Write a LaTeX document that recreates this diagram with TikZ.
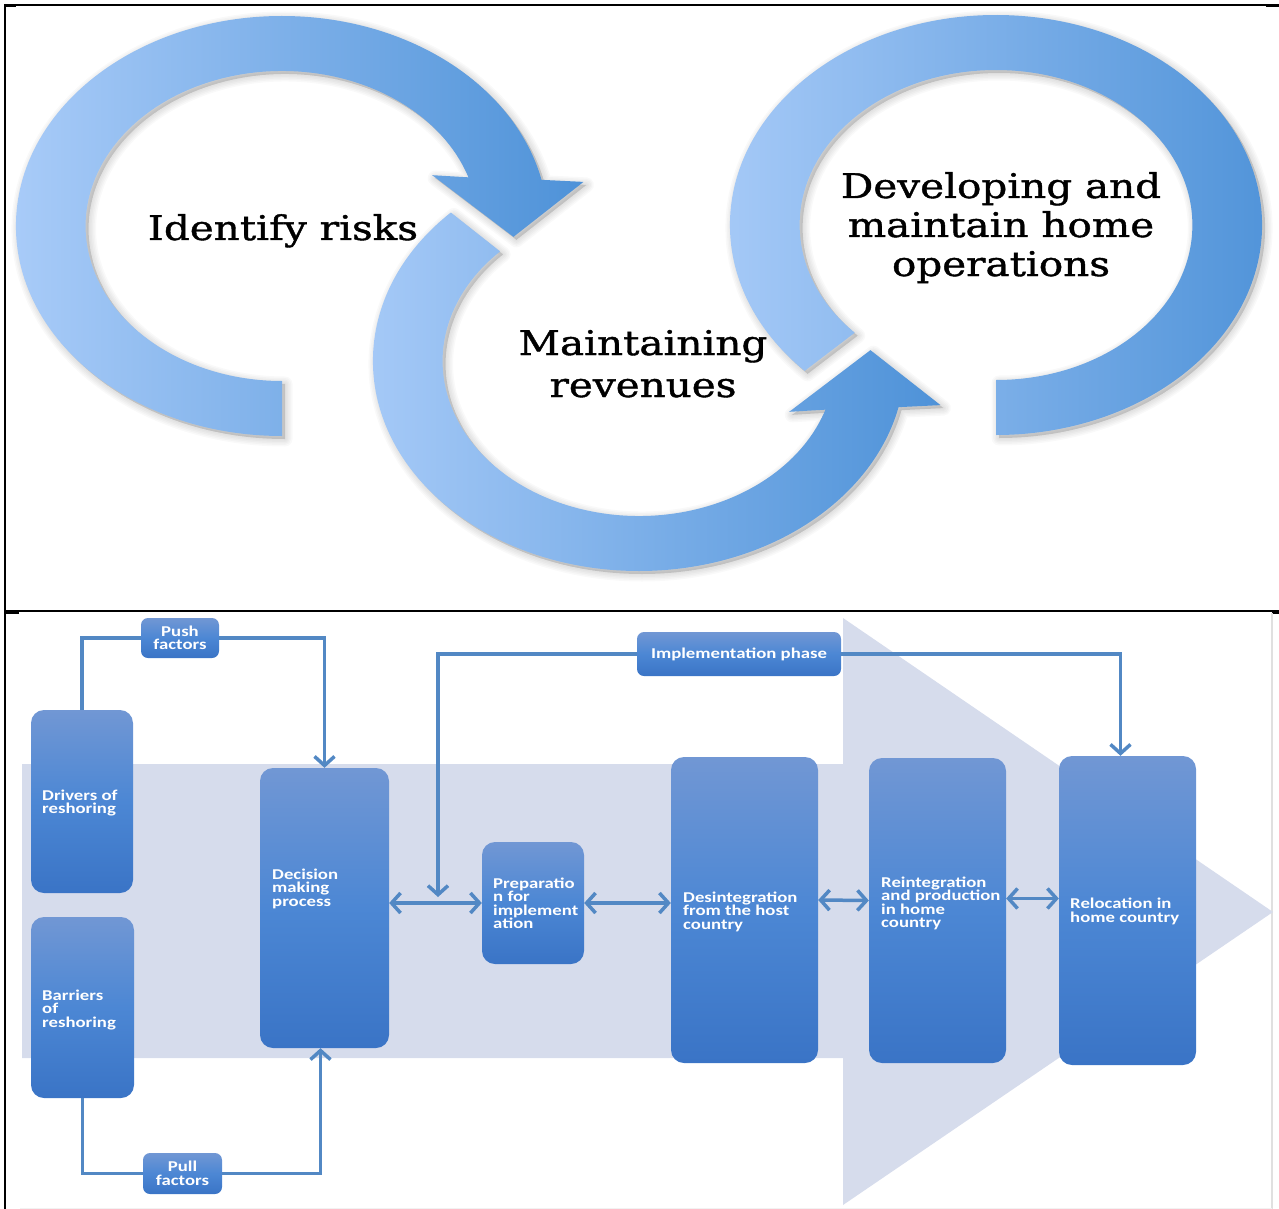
\documentclass[tikz,border=0pt]{standalone}
\usepackage{fontspec}
\usetikzlibrary{arrows.meta}
\newfontfamily\serfont[FakeStretch=1.19, FakeBold=1.2]{DejaVu Serif}
\newfontfamily\calfont[FakeStretch=1.25]{Carlito}
\definecolor{ringlight}{RGB}{168,203,248}
\definecolor{ringdark}{RGB}{78,146,216}
\definecolor{bgarrow}{RGB}{214,220,236}
\definecolor{boxtop}{RGB}{113,151,212}
\definecolor{boxmid}{RGB}{76,135,212}
\definecolor{boxbot}{RGB}{58,116,198}
\definecolor{linkblue}{RGB}{82,136,196}

% outlines of the three ring arrows, in a unit-circle frame (y up)
\def\ringonepath{(270:210) arc[start angle=270, end angle=12.7, radius=210]
    -- (10.5:242) -- (-3.4:183) -- (23.2:129) -- (18.3:155)
    arc[start angle=18.3, end angle=270, radius=155] -- cycle}
\def\ringtwopath{(135:210) arc[start angle=135, end angle=347.3, radius=210]
    -- (349.5:242) -- (3.4:183) -- (336.8:129) -- (341.7:155)
    arc[start angle=341.7, end angle=135, radius=155] -- cycle}
\def\ringthreepath{(224:210) arc[start angle=224, end angle=-90, radius=210]
    -- (-90:155) arc[start angle=-90, end angle=224, radius=155] -- cycle}

\begin{document}
\begin{tikzpicture}[x=1pt,y=-1pt,
  ring/.style={left color=ringlight, right color=ringdark},
  softshadow/.style={draw=black, fill=black, draw opacity=0.022, fill opacity=0.03, line join=round},
  ringlabel/.style={font=\serfont\fontsize{34}{42}\selectfont, align=center, inner sep=0pt, anchor=base},
  bluebox/.style={rectangle, rounded corners=13pt, top color=boxtop, bottom color=boxbot, middle color=boxmid, inner sep=0pt},
  smallbox/.style={bluebox, rounded corners=7pt, font=\calfont\bfseries\fontsize{15}{13.5}\selectfont, text=white, align=center},
  boxtext/.style={font=\calfont\bfseries\fontsize{15}{13.5}\selectfont, text=white, align=left, inner sep=0pt, anchor=west},
  link/.style={draw=linkblue, line width=3.5pt},
  endarrow/.style={-{Straight Barb[length=9pt,width=20pt]}},
  twoarrows/.style={{Straight Barb[length=9pt,width=20pt]}-{Straight Barb[length=9pt,width=20pt]}},
]
\useasboundingbox (0,0) rectangle (1279,1209);

% ---------- frame ----------
\draw[line width=1.5pt] (5,5) -- (1279,5);
\draw[line width=3pt] (4,6) -- (16,6);
\draw[line width=3pt] (1266,6) -- (1279,6);
\draw[line width=2pt] (5,4) -- (5,1209);
\draw[line width=1.5pt] (5,611) -- (1279,611);
\draw[line width=3pt] (5,612) -- (19,612);
\draw[line width=3pt] (1272,612) -- (1279,612);
\draw[black!12, line width=2pt] (1272,613) -- (1272,1209);
\draw[black!5, line width=1pt] (20,1208) -- (1272,1208);

% ---------- upper part: three circular arrows ----------
% soft shadows, offset down and to the right, built from faint layered strokes
\foreach \cx/\cy/\p in {282/226/\ringonepath, 639/361/\ringtwopath, 996/225/\ringthreepath}{
  \begin{scope}[shift={(\cx+3,\cy+3)}, xscale=1.267, yscale=-1]
    \foreach \w in {3,6,9,12,15}{\path[softshadow, line width=\w pt] \p;}
  \end{scope}
}
\begin{scope}[shift={(282,226)}, xscale=1.267, yscale=-1]
  \path[ring] \ringonepath;
\end{scope}
\begin{scope}[shift={(639,361)}, xscale=1.267, yscale=-1]
  \path[ring] \ringtwopath;
\end{scope}
\begin{scope}[shift={(996,225)}, xscale=1.267, yscale=-1]
  \path[ring] \ringthreepath;
\end{scope}

% anchor=base sits on the last line of a multi-line label
\node[ringlabel] (risks) at (283,240) {Identify risks};
\node[ringlabel] (revenues) at (643,397) {Maintaining\\revenues};
\node[ringlabel, font=\serfont\fontsize{34}{39}\selectfont] (homeops) at (1001,276) {Developing and\\maintain home\\operations};

% ---------- lower part: reshoring process ----------
\fill[bgarrow] (22,764) -- (843,764) -- (843,618) -- (1273,912) -- (843,1205) -- (843,1058) -- (22,1058) -- cycle;

\node[bluebox, minimum width=102pt, minimum height=183pt] (drv) at (82,801.5) {};
\node[bluebox, minimum width=103pt, minimum height=181pt] (bar) at (82.5,1007.5) {};
\node[bluebox, minimum width=129pt, minimum height=280pt] (dec) at (324.5,908) {};
\node[bluebox, minimum width=102pt, minimum height=122pt] (prep) at (533,903) {};
\node[bluebox, minimum width=147pt, minimum height=306pt] (des) at (744.5,910) {};
\node[bluebox, minimum width=137pt, minimum height=305pt] (rei) at (937.5,910.5) {};
\node[bluebox, minimum width=137pt, minimum height=309pt] (rel) at (1127.5,910.5) {};
\node[smallbox, minimum width=78pt, minimum height=40pt] (push) at (180,638) {Push\\factors};
\node[smallbox, minimum width=79pt, minimum height=41pt] (pull) at (182.5,1173.5) {Pull\\factors};
\node[smallbox, minimum width=204pt, minimum height=44pt] (impl) at (739,654) {Implementation phase};

\node[boxtext] (drvt) at (42,803) {Drivers of\\reshoring};
\node[boxtext] (bart) at (42,1009.5) {Barriers\\of\\reshoring};
\node[boxtext] (dect) at (272,888.5) {Decision\\making\\process};
\node[boxtext] (prept) at (493,903.5) {Preparatio\\n for\\implement\\ation};
\node[boxtext] (dest) at (683,911.5) {Desintegration\\from the host\\country};
\node[boxtext] (reit) at (881,903.5) {Reintegration\\and production\\in home\\country};
\node[boxtext] (relt) at (1070,911.5) {Relocation in\\home country};

\coordinate (junction) at (438,897);
\draw[link] (drv.north) |- (push.west);
\draw[link, endarrow] (push.east) -| (dec.north);
\draw[link] (bar.south) |- (pull.west);
\draw[link, endarrow] (pull.east) -| ([xshift=-4pt]dec.south);
\draw[link, endarrow] (impl.west) -| (junction);
\draw[link, endarrow] (impl.east) -| ([xshift=-7pt]rel.north);
\draw[link, twoarrows] (dec.east |- prep.west) -- (prep.west);
\draw[link, twoarrows] (prep.east) -- (des.west |- prep.east);
\draw[link, twoarrows] ([yshift=10pt]des.east) -- ([yshift=10pt]rei.west);
\draw[link, twoarrows] ([yshift=12pt]rei.east) -- ([yshift=12pt]rel.west);
\end{tikzpicture}
\end{document}
